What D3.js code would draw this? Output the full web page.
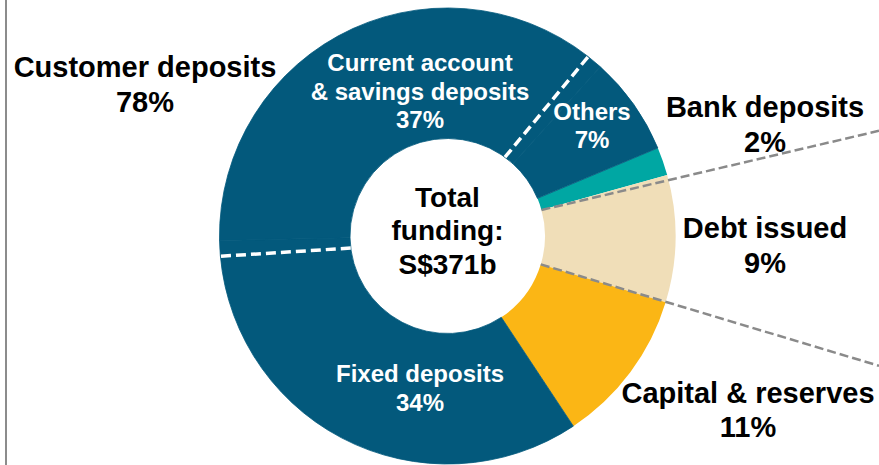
<!DOCTYPE html>
<html>
<head>
<meta charset="utf-8">
<script src="https://cdn.jsdelivr.net/npm/d3@7"></script>
<style>
  html, body { margin: 0; padding: 0; background: #fff; }
  svg { display: block; }
  text { font-family: "Liberation Sans", Arial, sans-serif; font-weight: bold; }
</style>
</head>
<body>
<div id="chart"></div>
<script>
// ---- data ----
const categories = ["Bank deposits", "Debt issued", "Capital & reserves", "Fixed deposits", "Current account & savings deposits", "Others"];
const values = [2, 9, 11, 34, 37, 7];
const groupNames = ["Customer deposits"];
const groupValues = [78];
const centerLines = ["Total", "funding:", "S$371b"];

// ---- layout / style ----
const W = 879, H = 465;
const cx = 447.5, cy = 236;
const rOuter = 228, rInner = 97.5;
const startDeg = 67.3;
const colors = ["#00A7A3", "#F0DEB8", "#FBB615", "#03597C", "#03597C", "#03597C"];
const deg = Math.PI / 180;
// hand-drawn look of the white separators (inner / outer angular offsets, degrees)
const sepInnerOffset = -6, sepOuterOffset = -4;

const svg = d3.select("#chart").append("svg").attr("width", W).attr("height", H);

// left border line
svg.append("line").attr("x1", 6).attr("x2", 6).attr("y1", 0).attr("y2", H)
  .attr("stroke", "#8c8c8c").attr("stroke-width", 2);

const g = svg.append("g").attr("transform", `translate(${cx},${cy})`);

const pie = d3.pie().sort(null).value(d => d)
  .startAngle(startDeg * deg).endAngle(startDeg * deg + 2 * Math.PI);
const arcs = pie(values);
const arcGen = d3.arc().innerRadius(rInner).outerRadius(rOuter);

g.selectAll("path.slice").data(arcs).enter().append("path")
  .attr("class", "slice")
  .attr("d", arcGen)
  .attr("fill", (d, i) => colors[i])
  .attr("stroke", (d, i) => (i >= 3 ? colors[i] : "none"))
  .attr("stroke-width", 0.8);

// white dashed separators inside customer deposits (between fixed/current and current/others)
[arcs[3].endAngle, arcs[4].endAngle].forEach(a => {
  const ai = a + sepInnerOffset * deg, ao = a + sepOuterOffset * deg;
  g.append("line")
    .attr("x1", rInner * Math.sin(ai)).attr("y1", -rInner * Math.cos(ai))
    .attr("x2", rOuter * Math.sin(ao)).attr("y2", -rOuter * Math.cos(ao))
    .attr("stroke", "#fff").attr("stroke-width", 3.5)
    .attr("stroke-dasharray", "10,5");
});

// grey dashed connectors from debt-issued boundaries to the right edge
const fan = [2.3, -0.2];
[arcs[1].startAngle, arcs[1].endAngle].forEach((a, k) => {
  const x0 = rInner * Math.sin(a), y0 = -rInner * Math.cos(a);
  const dir = a + fan[k] * deg;
  const dx = Math.sin(dir), dy = -Math.cos(dir);
  const t = (W - cx - x0) / dx;
  g.append("line")
    .attr("x1", x0).attr("y1", y0)
    .attr("x2", x0 + dx * t).attr("y2", y0 + dy * t)
    .attr("stroke", "#8a8a8a").attr("stroke-width", 2.5)
    .attr("stroke-dasharray", "9,4");
});

// labels
function label(x, ys, lines, size, fill) {
  const t = svg.append("text").attr("text-anchor", "middle")
    .attr("font-size", size).attr("fill", fill);
  lines.forEach((s, i) => t.append("tspan").attr("x", x).attr("y", ys[i]).text(s));
}
const pct = v => v + "%";

label(145, [77, 112], [groupNames[0], pct(groupValues[0])], 29, "#000");
label(420, [71, 100, 128], ["Current account", "& savings deposits", pct(values[4])], 24, "#fff");
label(592, [120, 148], [categories[5], pct(values[5])], 24, "#fff");
label(420, [382, 411], [categories[3], pct(values[3])], 24, "#fff");
label(765, [117, 152], [categories[0], pct(values[0])], 29, "#000");
label(765, [238, 273], [categories[1], pct(values[1])], 29, "#000");
label(748, [403, 437], [categories[2], pct(values[2])], 29, "#000");
label(cx, [207, 240, 274], centerLines, 28, "#000");
</script>
</body>
</html>
